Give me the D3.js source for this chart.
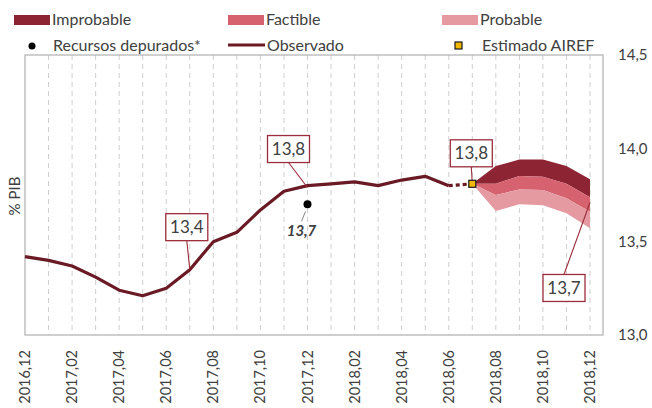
<!DOCTYPE html>
<html>
<head>
<meta charset="utf-8">
<script src="https://cdn.jsdelivr.net/npm/d3@7"></script>
<style>
  body { margin: 0; background: #fff; }
  svg { font-family: Lato, "Open Sans", sans-serif; }
</style>
</head>
<body>
<svg id="chart" width="652" height="408"></svg>
<script>
const months = ["2016,12", "2017,01", "2017,02", "2017,03", "2017,04", "2017,05", "2017,06",
  "2017,07", "2017,08", "2017,09", "2017,10", "2017,11", "2017,12", "2018,01", "2018,02",
  "2018,03", "2018,04", "2018,05", "2018,06", "2018,07", "2018,08", "2018,09", "2018,10",
  "2018,11", "2018,12"]
const tickLabels = months.filter((m, i) => i % 2 === 0)
const yTicks = [13.0, 13.5, 14.0, 14.5]

// observed series 2016,12 .. 2018,06
const observed = [13.42, 13.40, 13.37, 13.31, 13.24, 13.21, 13.25, 13.35, 13.50, 13.55,
  13.67, 13.77, 13.80, 13.81, 13.82, 13.80, 13.83, 13.85, 13.80]
const estimateMonth = "2018,07"
const estimate = 13.81

// fan chart 2018,07 .. 2018,12
const fanMonths = ["2018,07", "2018,08", "2018,09", "2018,10", "2018,11", "2018,12"]
const improbableTop = [13.81, 13.905, 13.94, 13.94, 13.905, 13.834]
const factibleTop = [13.81, 13.81, 13.852, 13.848, 13.81, 13.738]
const probableTop = [13.81, 13.75, 13.78, 13.777, 13.732, 13.66]
const probableBottom = [13.81, 13.664, 13.70, 13.695, 13.652, 13.572]

const recursosMonth = "2017,12"
const recursos = 13.70

const notes = [
  { text: "13,4", month: "2017,07", value: 13.35, dx: -3, dy: -56 },
  { text: "13,8", month: "2017,12", value: 13.79, dx: -19, dy: -52 },
  { text: "13,8", month: "2018,07", value: 13.81, dx: -1, dy: -44 },
  { text: "13,7", month: "2018,12", value: 13.71, dx: -26, dy: 72 }
]

const colors = {
  improbable: "#8c2433",
  factible: "#d6626f",
  probable: "#e59aa2",
  observed: "#6a1a24",
  text: "#404040",
  box: "#9b2d3c"
}

const svg = d3.select("#chart")
const plot = { left: 25, right: 603, top: 55, bottom: 335 }

const x = d3.scalePoint().domain(months).range([25, 590])
const y = d3.scaleLinear().domain([13.0, 14.5]).range([plot.bottom, plot.top])

// grid
svg.append("g")
  .selectAll("line")
  .data(months.slice(1))
  .enter()
  .append("line")
  .attr("x1", d => x(d)).attr("x2", d => x(d))
  .attr("y1", plot.top).attr("y2", plot.bottom)
  .attr("stroke", "#cfcfcf")
  .attr("stroke-dasharray", "5,4")

svg.append("rect")
  .attr("x", plot.left).attr("y", plot.top)
  .attr("width", plot.right - plot.left).attr("height", plot.bottom - plot.top)
  .attr("fill", "none")
  .attr("stroke", "#b0b0b0")
  .attr("stroke-width", 1.2)

// right axis labels
svg.append("g")
  .selectAll("text")
  .data(yTicks)
  .enter()
  .append("text")
  .attr("x", 618)
  .attr("y", d => y(d))
  .attr("dy", "0.35em")
  .attr("font-size", 15)
  .attr("fill", colors.text)
  .text(d => d3.format(".1f")(d).replace(".", ","))

// x labels
svg.append("g")
  .selectAll("text")
  .data(tickLabels)
  .enter()
  .append("text")
  .attr("transform", d => `translate(${x(d) + 5},${350}) rotate(-90)`)
  .attr("text-anchor", "end")
  .attr("font-size", 14.5)
  .attr("fill", colors.text)
  .text(d => d)

svg.append("text")
  .attr("transform", `translate(20,196) rotate(-90)`)
  .attr("text-anchor", "middle")
  .attr("font-size", 15)
  .attr("fill", colors.text)
  .text("% PIB")

// fan
const fanData = fanMonths.map((m, i) => ({
  m, a: improbableTop[i], b: factibleTop[i], c: probableTop[i], d: probableBottom[i]
}))
const band = (hi, lo) => d3.area().x(d => x(d.m)).y0(d => y(d[lo])).y1(d => y(d[hi]))
svg.append("path").attr("d", band("a", "b")(fanData)).attr("fill", colors.improbable)
svg.append("path").attr("d", band("b", "c")(fanData)).attr("fill", colors.factible)
svg.append("path").attr("d", band("c", "d")(fanData)).attr("fill", colors.probable)

// observed line
const line = d3.line().x(d => x(d[0])).y(d => y(d[1]))
const obsData = observed.map((v, i) => [months[i], v])
svg.append("path")
  .attr("d", line(obsData))
  .attr("fill", "none")
  .attr("stroke", colors.observed)
  .attr("stroke-width", 3.2)
  .attr("stroke-linejoin", "round")

const lastObs = obsData[obsData.length - 1]
svg.append("path")
  .attr("d", line([lastObs, [estimateMonth, estimate]]))
  .attr("fill", "none")
  .attr("stroke", colors.observed)
  .attr("stroke-width", 3.2)
  .attr("stroke-dasharray", "4,3")

// annotations
notes.forEach(n => {
  const px = x(n.month), py = y(n.value)
  const bw = 42, bh = 27
  const bx = px + n.dx - bw / 2
  const by = py + n.dy
  const ly = n.dy < 0 ? by + bh : by
  svg.append("line")
    .attr("x1", px + n.dx).attr("y1", ly)
    .attr("x2", px).attr("y2", py)
    .attr("stroke", colors.box)
    .attr("stroke-width", 1.1)
  svg.append("rect")
    .attr("x", bx).attr("y", by)
    .attr("width", bw).attr("height", bh)
    .attr("fill", "#fff")
    .attr("stroke", colors.box)
    .attr("stroke-width", 1.3)
  svg.append("text")
    .attr("x", bx + bw / 2).attr("y", by + bh / 2)
    .attr("dy", "0.36em")
    .attr("text-anchor", "middle")
    .attr("font-size", 17)
    .attr("fill", colors.text)
    .text(n.text)
})

// estimate marker
svg.append("rect")
  .attr("x", x(estimateMonth) - 3.5).attr("y", y(estimate) - 3.5)
  .attr("width", 7).attr("height", 7)
  .attr("fill", "#f5b800")
  .attr("stroke", "#1a1a1a")
  .attr("stroke-width", 1.2)

// recursos depurados
const rx = x(recursosMonth), ry = y(recursos)
svg.append("line")
  .attr("x1", rx - 2).attr("y1", ry + 7)
  .attr("x2", rx - 6).attr("y2", ry + 17)
  .attr("stroke", "#888").attr("stroke-width", 1)
svg.append("circle")
  .attr("cx", rx).attr("cy", ry).attr("r", 4)
  .attr("fill", "#000")
svg.append("text")
  .attr("x", rx - 6).attr("y", ry + 32)
  .attr("text-anchor", "middle")
  .attr("font-size", 15)
  .attr("font-weight", "bold")
  .attr("font-style", "italic")
  .attr("fill", colors.text)
  .text("13,7")

// legend
const lg = svg.append("g").attr("font-size", 16).attr("fill", colors.text)
const swatches = [
  { label: "Improbable", color: colors.improbable, x: 14 },
  { label: "Factible", color: colors.factible, x: 228 },
  { label: "Probable", color: colors.probable, x: 442 }
]
swatches.forEach(s => {
  lg.append("rect").attr("x", s.x).attr("y", 15).attr("width", 36).attr("height", 10).attr("fill", s.color)
  lg.append("text").attr("x", s.x + 38).attr("y", 25).text(s.label)
})
lg.append("circle").attr("cx", 32).attr("cy", 46).attr("r", 3.5).attr("fill", "#000")
lg.append("text").attr("x", 53).attr("y", 51).text("Recursos depurados*")
lg.append("line").attr("x1", 228).attr("x2", 265).attr("y1", 45).attr("y2", 45)
  .attr("stroke", colors.observed).attr("stroke-width", 3)
lg.append("text").attr("x", 267).attr("y", 51).text("Observado")
lg.append("rect").attr("x", 455).attr("y", 42).attr("width", 7).attr("height", 7)
  .attr("fill", "#f5b800").attr("stroke", "#1a1a1a").attr("stroke-width", 1.2)
lg.append("text").attr("x", 482).attr("y", 51).text("Estimado AIREF")
</script>
</body>
</html>
